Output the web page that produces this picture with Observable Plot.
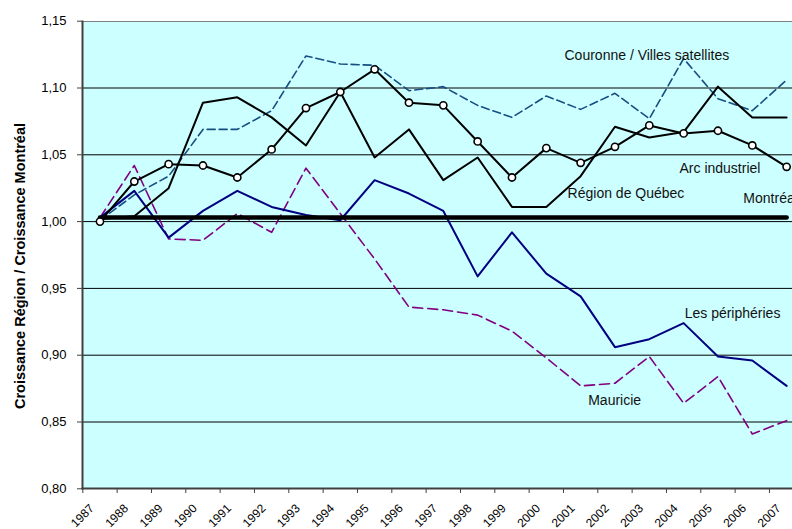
<!DOCTYPE html>
<html><head><meta charset="utf-8">
<script src="https://cdn.jsdelivr.net/npm/d3@7"></script>
<script src="https://cdn.jsdelivr.net/npm/@observablehq/plot@0.6"></script>
<style>
html,body{margin:0;padding:0;background:#fff;overflow:hidden;width:792px;height:529px}
#chart svg{overflow:hidden}
</style></head><body><div id="chart"></div>
<script>
const years = ["1987","1988","1989","1990","1991","1992","1993","1994","1995","1996","1997","1998","1999","2000","2001","2002","2003","2004","2005","2006","2007"];
const yTicks = [0.80, 0.85, 0.90, 0.95, 1.00, 1.05, 1.10, 1.15];

const montreal    = [1.003,1.003,1.003,1.003,1.003,1.003,1.003,1.003,1.003,1.003,1.003,1.003,1.003,1.003,1.003,1.003,1.003,1.003,1.003,1.003,1.003];
const arc         = [1.000,1.030,1.043,1.042,1.033,1.054,1.085,1.097,1.114,1.089,1.087,1.060,1.033,1.055,1.044,1.056,1.072,1.066,1.068,1.057,1.041];
const quebec      = [1.002,1.004,1.025,1.089,1.093,1.078,1.057,1.097,1.048,1.069,1.031,1.048,1.011,1.011,1.034,1.071,1.063,1.067,1.101,1.078,1.078];
const couronne    = [1.001,1.020,1.034,1.069,1.069,1.083,1.124,1.118,1.117,1.098,1.101,1.087,1.078,1.094,1.084,1.096,1.077,1.122,1.092,1.083,1.106];
const peripheries = [1.003,1.023,0.988,1.008,1.023,1.011,1.005,1.001,1.031,1.021,1.008,0.959,0.992,0.961,0.944,0.906,0.912,0.924,0.899,0.896,0.877];
const mauricie    = [1.003,1.042,0.987,0.986,1.006,0.992,1.040,1.006,0.972,0.936,0.934,0.930,0.918,0.898,0.877,0.879,0.899,0.864,0.884,0.841,0.851];

const seriesNames = ["Couronne / Villes satellites","Arc industriel","Région de Québec","Montréal","Les périphéries","Mauricie"];
// label anchor points in data coordinates (category index, ratio)
const labelX = [14.03, 17.38, 14.12, 19.24, 17.53, 14.72];
const labelY = [1.124, 1.0395, 1.0207, 1.017, 0.9315, 0.8662];

const rows = (name, values) => values.map((v, i) => ({name, x: i + 0.5, v}));
const bounds = years.map((_, i) => i);
const centers = years.map((_, i) => i + 0.5);
const labels = seriesNames.map((t, k) => ({text: t, x: labelX[k], y: labelY[k]}));

const chart = Plot.plot({
  width: 792, height: 529,
  marginLeft: 82, marginRight: 0, marginTop: 21, marginBottom: 41,
  x: {domain: [0, 21], range: [82.3, 803.3]},
  y: {domain: [0.80, 1.15], range: [488.3, 20.7]},
  style: {fontFamily: "Arial, 'Liberation Sans', sans-serif", fontSize: "13px", background: "white", color: "#000", overflow: "hidden"},
  marks: [
    Plot.frame({fill: "#ccffff"}),
    Plot.gridY({ticks: yTicks.slice(1, -1), stroke: "#000", strokeOpacity: 1, strokeWidth: 1}),
    Plot.frame({anchor: "top", stroke: "#808080", strokeWidth: 1.2}),
    Plot.line(rows("c", couronne), {x: "x", y: "v", stroke: "#174e82", strokeWidth: 1.6, strokeDasharray: "8,4"}),
    Plot.line(rows("m", mauricie), {x: "x", y: "v", stroke: "#800080", strokeWidth: 1.6, strokeDasharray: "10,5"}),
    Plot.line(rows("p", peripheries), {x: "x", y: "v", stroke: "#000080", strokeWidth: 2}),
    Plot.line(rows("q", quebec), {x: "x", y: "v", stroke: "#000", strokeWidth: 2}),
    Plot.line(rows("a", arc), {x: "x", y: "v", stroke: "#000", strokeWidth: 2}),
    Plot.line(rows("mt", montreal), {x: "x", y: "v", stroke: "#000", strokeWidth: 4.5}),
    Plot.dot(rows("a", arc), {x: "x", y: "v", r: 3.6, fill: "#fff", stroke: "#000", strokeWidth: 1.6}),
    Plot.text(labels, {x: "x", y: "y", text: "text", textAnchor: "start", fontSize: 14, fill: "#111"}),
    Plot.frame({anchor: "left", stroke: "#404040", strokeWidth: 2}),
    Plot.frame({anchor: "bottom", stroke: "#404040", strokeWidth: 2}),
    Plot.axisY({ticks: yTicks, tickFormat: d => d.toFixed(2).replace(".", ","), tickSize: 5, tickPadding: 11, label: null, stroke: "#404040", fontSize: 13}),
    Plot.axisX({ticks: bounds, tickFormat: () => "", tickSize: 5, label: null, stroke: "#404040"}),
    Plot.axisX({ticks: centers, tickFormat: d => years[Math.floor(d)], tickSize: 0, tickRotate: -45, label: null, fontSize: 12, dx: -8, dy: 6}),
    Plot.text(["Croissance Région / Croissance Montréal"], {frameAnchor: "left", textAnchor: "middle", rotate: -90, dx: -62, dy: 11, fontWeight: "bold", fontSize: 14.5})
  ]
});
document.getElementById("chart").append(chart);
</script></body></html>
